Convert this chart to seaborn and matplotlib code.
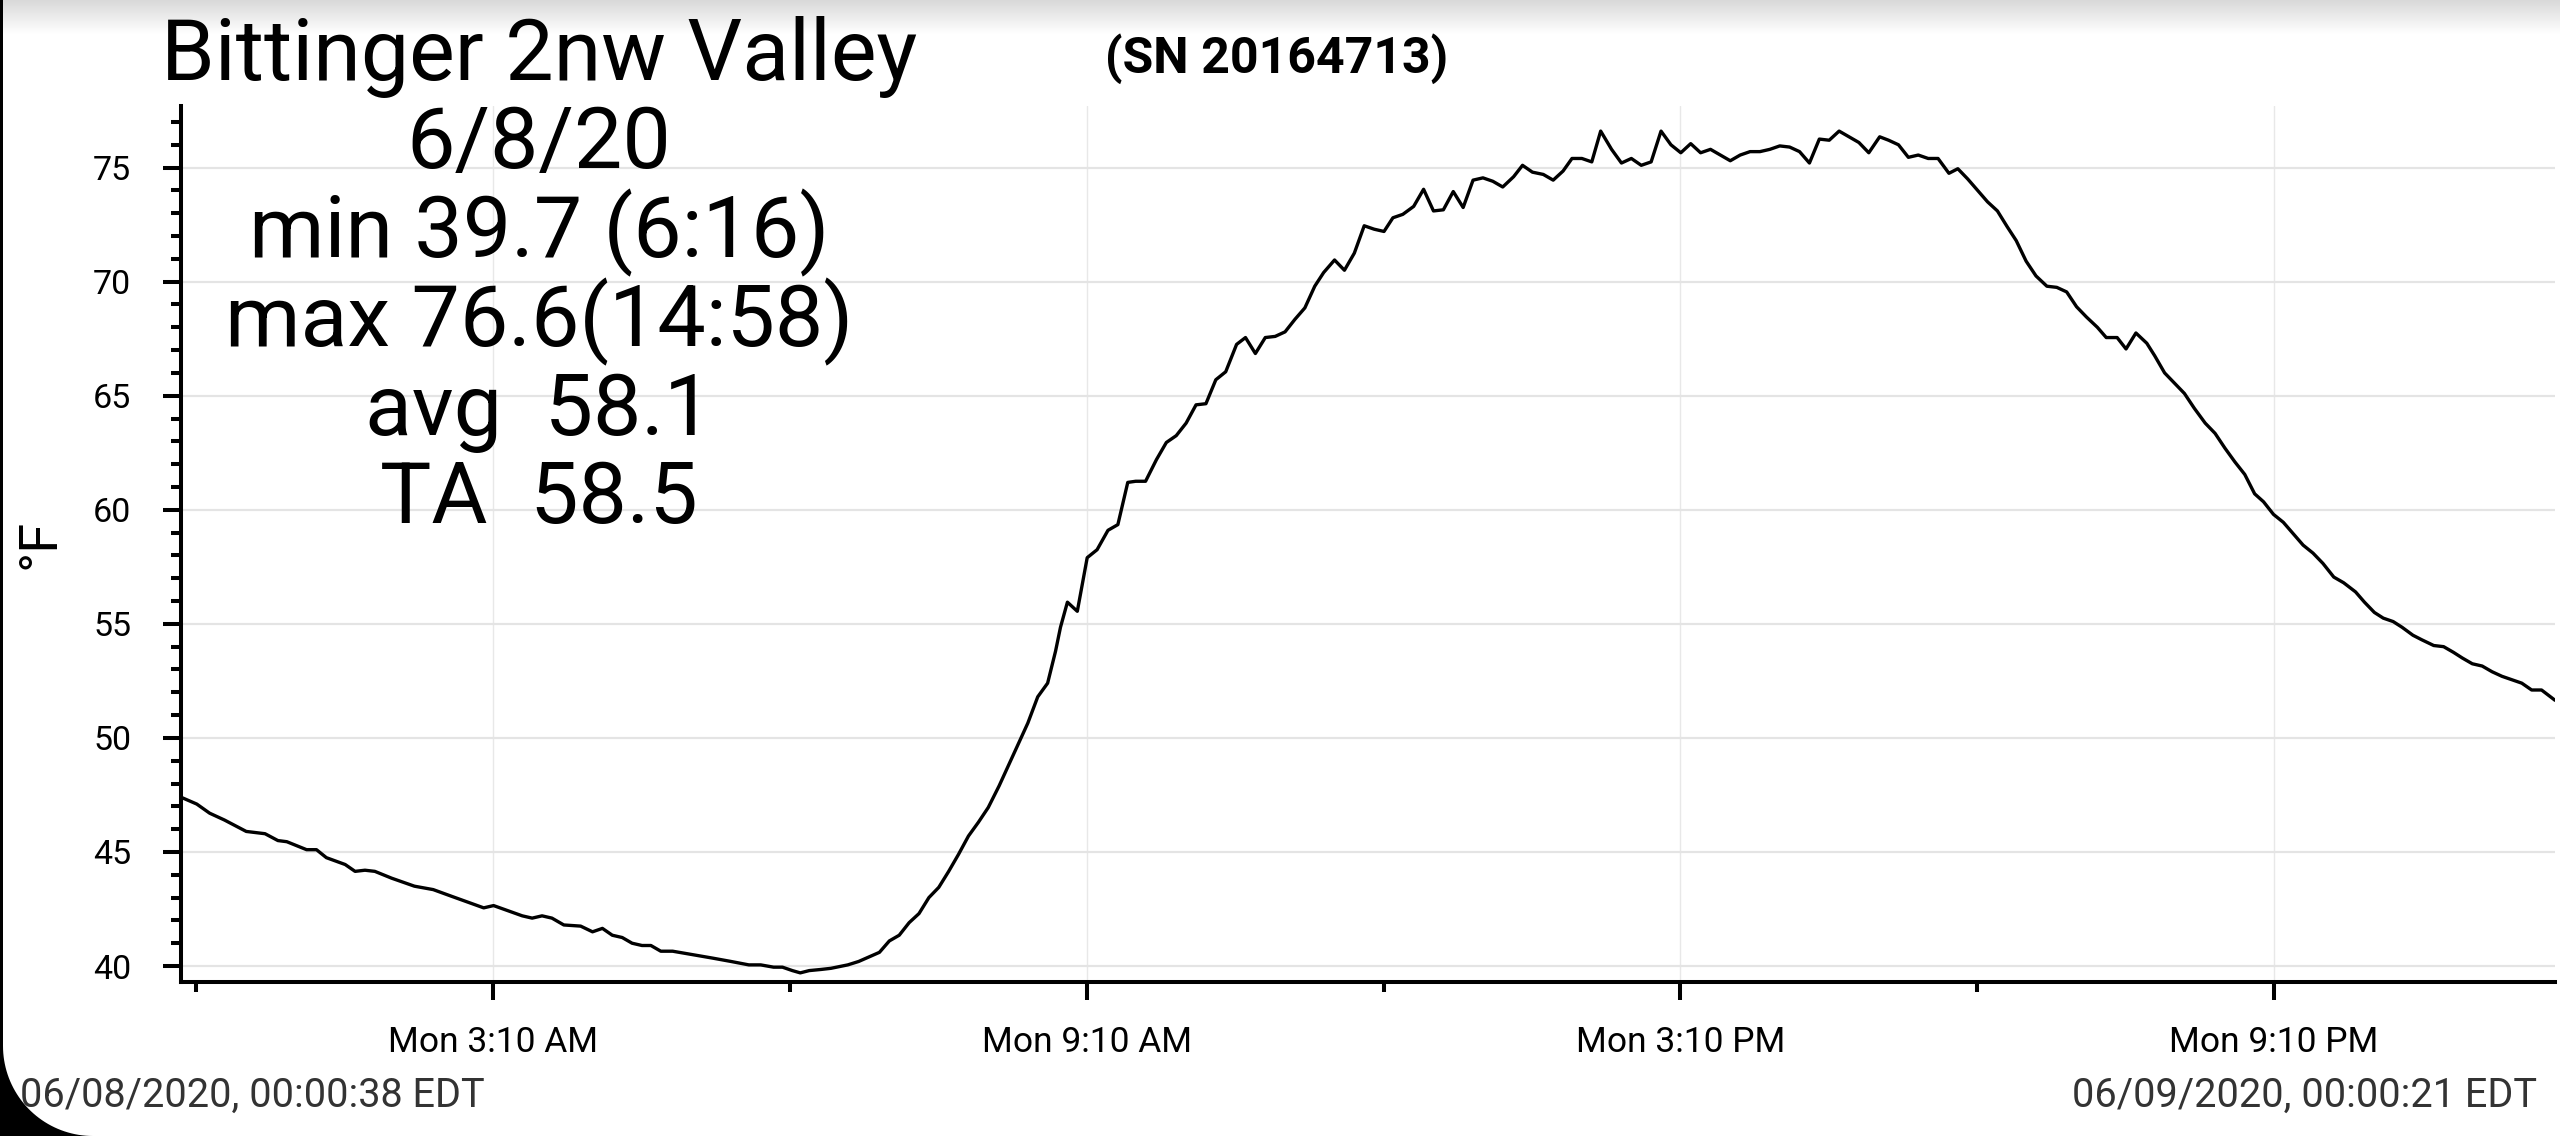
import numpy as np
import pandas as pd
import matplotlib
matplotlib.use("Agg")
import matplotlib.pyplot as plt
from matplotlib.ticker import MultipleLocator
from matplotlib.patches import Polygon, Rectangle
from matplotlib.colors import LinearSegmentedColormap
import seaborn as sns

# ---------------- data ----------------
day = "2020-06-08"
hours = [
    0.0106, 0.17, 0.30, 0.45, 0.67, 0.86, 0.99, 1.08, 1.28, 1.38, 1.48, 1.67, 1.77, 1.87, 1.97,
    2.14, 2.37, 2.56, 2.75, 3.07, 3.17, 3.46, 3.56, 3.66, 3.76, 3.88, 4.05, 4.17, 4.27, 4.37,
    4.47, 4.57, 4.67, 4.76, 4.86, 4.98, 5.18, 5.38, 5.57, 5.75, 5.87, 6.00, 6.09, 6.19, 6.27,
    6.36, 6.48, 6.58, 6.75, 6.86, 7.07, 7.17, 7.27, 7.37, 7.47, 7.57, 7.67, 7.77, 7.87, 7.97,
    8.07, 8.17, 8.28, 8.38, 8.48, 8.57, 8.67, 8.77, 8.85, 8.90, 8.97, 9.07, 9.17, 9.27, 9.38,
    9.48, 9.58, 9.66, 9.76, 9.87, 9.97, 10.07, 10.17, 10.27, 10.37, 10.47, 10.57, 10.68, 10.77,
    10.87, 10.97, 11.07, 11.17, 11.27, 11.37, 11.47, 11.56, 11.67, 11.77, 11.87, 11.97, 12.07,
    12.17, 12.26, 12.36, 12.47, 12.57, 12.67, 12.77, 12.87, 12.97, 13.07, 13.17, 13.27, 13.37,
    13.48, 13.57, 13.67, 13.78, 13.88, 13.98, 14.07, 14.17, 14.27, 14.36, 14.47, 14.57, 14.67,
    14.77, 14.87, 14.97, 15.07, 15.17, 15.27, 15.37, 15.47, 15.57, 15.67, 15.77, 15.87, 15.97,
    16.07, 16.17, 16.27, 16.37, 16.47, 16.57, 16.67, 16.77, 16.87, 16.97, 17.07, 17.18, 17.27,
    17.37, 17.47, 17.57, 17.67, 17.77, 17.88, 17.97, 18.07, 18.17, 18.27, 18.37, 18.47, 18.56,
    18.66, 18.76, 18.87, 18.97, 19.07, 19.17, 19.27, 19.38, 19.47, 19.58, 19.67, 19.77, 19.88,
    19.96, 20.06, 20.16, 20.26, 20.36, 20.47, 20.57, 20.67, 20.77, 20.87, 20.97, 21.06, 21.16,
    21.26, 21.36, 21.46, 21.56, 21.66, 21.77, 21.87, 21.99, 22.08, 22.18, 22.27, 22.37, 22.46,
    22.57, 22.66, 22.78, 22.88, 22.98, 23.07, 23.17, 23.27, 23.37, 23.47, 23.57, 23.67, 23.77,
    23.87, 24.0058,
]
temps_f = [
    47.4, 47.1, 46.7, 46.4, 45.9, 45.8, 45.5, 45.45, 45.1, 45.1, 44.75, 44.45, 44.15, 44.2, 44.15,
    43.85, 43.5, 43.35, 43.05, 42.55, 42.65, 42.2, 42.1, 42.2, 42.1, 41.8, 41.75, 41.5, 41.65, 41.35,
    41.25, 41.0, 40.9, 40.9, 40.65, 40.65, 40.5, 40.35, 40.2, 40.05, 40.05, 39.95, 39.95, 39.8, 39.7,
    39.8, 39.85, 39.9, 40.05, 40.2, 40.6, 41.1, 41.35, 41.9, 42.3, 43.0, 43.45, 44.15, 44.9, 45.7,
    46.3, 46.95, 47.9, 48.85, 49.8, 50.65, 51.8, 52.4, 53.8, 54.85, 55.95, 55.55, 57.9, 58.25, 59.1,
    59.35, 61.2, 61.25, 61.25, 62.2, 62.95, 63.25, 63.8, 64.6, 64.65, 65.7, 66.05, 67.25, 67.55,
    66.85, 67.55, 67.6, 67.8, 68.35, 68.85, 69.8, 70.4, 70.95, 70.5, 71.25, 72.45, 72.3,
    72.2, 72.8, 72.95, 73.3, 74.05, 73.1, 73.15, 73.95, 73.25, 74.45, 74.55, 74.4, 74.15,
    74.6, 75.1, 74.8, 74.7, 74.45, 74.85, 75.4, 75.4, 75.25, 76.6, 75.8, 75.2, 75.4,
    75.1, 75.25, 76.6, 76.0, 75.65, 76.05, 75.65, 75.8, 75.55, 75.3, 75.55, 75.7, 75.7,
    75.8, 75.95, 75.9, 75.7, 75.2, 76.25, 76.2, 76.6, 76.35, 76.1, 75.65, 76.35, 76.2,
    76.0, 75.45, 75.55, 75.4, 75.4, 74.75, 74.95, 74.5, 74.0, 73.5, 73.1, 72.4, 71.8,
    70.9, 70.25, 69.8, 69.75, 69.55, 68.9, 68.45, 68.0, 67.55, 67.55, 67.05, 67.75, 67.3,
    66.75, 66.0, 65.55, 65.1, 64.45, 63.8, 63.35, 62.7, 62.1, 61.55, 60.7, 60.35, 59.8,
    59.45, 58.95, 58.45, 58.1, 57.65, 57.05, 56.8, 56.4, 55.95, 55.5, 55.25, 55.1, 54.85,
    54.5, 54.3, 54.05, 54.0, 53.75, 53.5, 53.25, 53.15, 52.9, 52.7, 52.55, 52.4, 52.1,
    52.1, 51.65,
]

x_major_times = ["03:10", "09:10", "15:10", "21:10"]
x_major_labels = ["Mon 3:10 AM", "Mon 9:10 AM", "Mon 3:10 PM", "Mon 9:10 PM"]
x_minor_times = ["00:10", "06:10", "12:10", "18:10"]
y_major_ticks = [40, 45, 50, 55, 60, 65, 70, 75]

title_text = "Bittinger 2nw Valley"
serial_text = "(SN 20164713)"
stat_lines = ["6/8/20", "min 39.7 (6:16)", "max 76.6(14:58)", "avg  58.1", "TA  58.5"]
start_label = "06/08/2020, 00:00:38 EDT"
end_label = "06/09/2020, 00:00:21 EDT"
y_label = "°F"

# ---------------- figure ----------------
sns.set_theme(style="white")
plt.rcParams["font.family"] = ["Roboto", "DejaVu Sans"]

W, H = 2560, 1136
fig = plt.figure(figsize=(W / 100, H / 100), dpi=100)
fig.patch.set_facecolor("white")

def fx(px):
    return px / W

def fy(py):
    return 1 - py / H

ax_left, ax_right, ax_top, ax_bottom = 181, 2555, 106, 982
ax = fig.add_axes([fx(ax_left), fy(ax_bottom), (ax_right - ax_left) / W, (ax_bottom - ax_top) / H])

df = pd.DataFrame({
    "time": pd.Timestamp(day) + pd.to_timedelta(hours, unit="h"),
    "temp": temps_f,
})
sns.lineplot(data=df, x="time", y="temp", color="black", linewidth=2.4, ax=ax, zorder=3)

ax.set_xlim(df["time"].iloc[0], df["time"].iloc[-1])
ax.set_ylim(39.3, 77.7)

major_dt = [pd.Timestamp(f"{day} {t}") for t in x_major_times]
minor_dt = [pd.Timestamp(f"{day} {t}") for t in x_minor_times]
ax.set_xticks(major_dt)
ax.set_xticklabels(x_major_labels)
ax.set_xticks(minor_dt, minor=True)
ax.set_yticks(y_major_ticks)
ax.yaxis.set_minor_locator(MultipleLocator(1))

for s in ["top", "right"]:
    ax.spines[s].set_visible(False)
for s in ["left", "bottom"]:
    ax.spines[s].set_visible(True)
    ax.spines[s].set_color("black")
    ax.spines[s].set_linewidth(2.9)

ax.tick_params(axis="both", which="major", direction="out", length=13, width=2.9,
               color="black", labelcolor="black")
ax.tick_params(axis="both", which="minor", direction="out", length=7, width=2.9, color="black")
ax.tick_params(axis="y", which="both", left=True)
ax.tick_params(axis="x", which="both", bottom=True)
ax.tick_params(axis="y", which="major", pad=23, labelsize=24.5)
ax.tick_params(axis="x", which="major", pad=19, labelsize=25.5)

ax.yaxis.grid(True, which="major", color="#e4e4e4", linewidth=1.6, zorder=0)
ax.xaxis.grid(True, which="major", color="#e8e8e8", linewidth=1.0, zorder=0)
ax.set_axisbelow(True)

ax.set_xlabel("")
ax.set_ylabel(y_label, fontsize=39, color="black")
ax.yaxis.set_label_coords((66 - ax_left) / (ax_right - ax_left), 0.5)

# ---------------- annotation texts ----------------
center_x = fx(539)
fig.text(center_x, fy(80), title_text, ha="center", va="baseline", fontsize=62, color="black")
baselines = [168, 257, 346, 435, 523]
for line, b in zip(stat_lines, baselines):
    fig.text(center_x, fy(b), line, ha="center", va="baseline", fontsize=62, color="black")
fig.text(fx(1277), fy(73), serial_text, ha="center", va="baseline", fontsize=36,
         fontweight="bold", color="black")
fig.text(fx(20), fy(1107), start_label, ha="left", va="baseline", fontsize=28.5, color="#333333")
fig.text(fx(2537), fy(1107), end_label, ha="right", va="baseline", fontsize=28.5, color="#333333")

# ---------------- screenshot frame decorations ----------------
gax = fig.add_axes([0, fy(34), 1, 34 / H], zorder=-5)
grad_cmap = LinearSegmentedColormap.from_list("g", ["#d9d9d9", "#ffffff"])
gax.imshow(np.linspace(0, 1, 64).reshape(-1, 1), cmap=grad_cmap, aspect="auto")
gax.axis("off")

fig.patches.append(Rectangle((0, 0), fx(3), 1, transform=fig.transFigure,
                             facecolor="black", edgecolor="none", zorder=10))
r, cx, cy = 90, 93, 90
theta = np.linspace(np.pi, 1.5 * np.pi, 40)
arc = [(fx(cx + r * np.cos(t)), (cy + r * np.sin(t)) / H) for t in theta]
corner = [(0, 0), (0, cy / H)] + arc + [(fx(cx), 0)]
fig.patches.append(Polygon(corner, closed=True, transform=fig.transFigure,
                           facecolor="black", edgecolor="none", zorder=10))

fig.savefig("out.png", dpi=100, facecolor="white")
